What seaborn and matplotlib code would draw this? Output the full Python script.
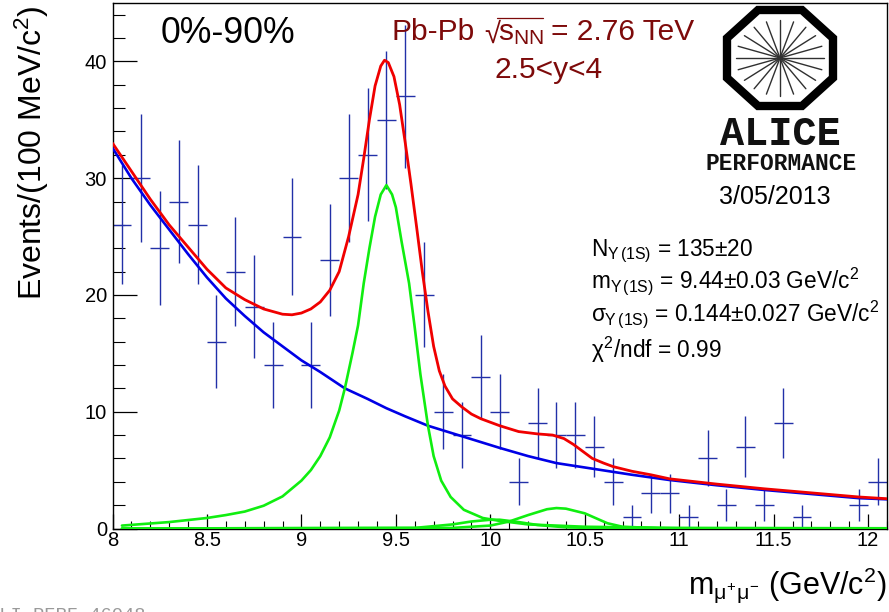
import numpy as np
import matplotlib
matplotlib.use("Agg")
import matplotlib.pyplot as plt
import seaborn as sns
from matplotlib.ticker import MultipleLocator, FixedLocator, FixedFormatter

# data points
mass = [8.05, 8.15, 8.25, 8.35, 8.45, 8.55, 8.65, 8.75, 8.85, 8.95, 9.05, 9.15, 9.25,
        9.35, 9.45, 9.55, 9.65, 9.75, 9.85, 9.95, 10.05, 10.15, 10.25, 10.35, 10.45,
        10.55, 10.65, 10.75, 10.85, 10.95, 11.05, 11.15, 11.25, 11.35, 11.45, 11.55,
        11.65, 11.95, 12.05]
events = [26, 30, 24, 28, 26, 16, 22, 19, 14, 25, 14, 23, 30, 32, 35, 37, 20, 10, 8, 13,
          10, 4, 9, 8, 8, 7, 4, 1, 3, 3, 1, 6, 2, 7, 2, 9, 1, 2, 4]
events_err = [5.1, 5.5, 4.9, 5.3, 5.1, 4.0, 4.7, 4.4, 3.7, 5.0, 3.7, 4.8, 5.5, 5.7, 5.9,
              6.1, 4.5, 3.2, 2.8, 3.6, 3.2, 2.0, 3.0, 2.8, 2.8, 2.6, 2.0, 1.0, 1.7, 1.7,
              1.0, 2.4, 1.4, 2.6, 1.4, 3.0, 1.0, 1.4, 2.0]

# fit curves
bkg_x = [8.0, 8.1, 8.2, 8.3, 8.4, 8.5, 8.6, 8.7, 8.8, 8.9, 9.0, 9.1, 9.23, 9.35, 9.45,
         9.55, 9.67, 9.85, 10.05, 10.2, 10.35, 10.55, 10.75, 10.95, 11.2, 11.45, 11.7, 11.95, 12.1]
bkg_y = [32.6, 30.0, 27.7, 25.6, 23.5, 21.5, 19.7, 18.2, 16.8, 15.6, 14.4, 13.4, 12.0, 11.1, 10.3,
         9.6, 8.8, 7.9, 6.9, 6.2, 5.6, 5.1, 4.6, 4.15, 3.7, 3.3, 2.95, 2.6, 2.5]

total_x = [8.0, 8.1, 8.2, 8.3, 8.4, 8.5, 8.6, 8.7, 8.8, 8.9, 8.95, 9.0, 9.05, 9.1, 9.15, 9.2,
           9.25, 9.3, 9.33, 9.36, 9.39, 9.42, 9.44, 9.46, 9.49, 9.52, 9.55, 9.58, 9.61, 9.64,
           9.67, 9.7, 9.73, 9.76, 9.8, 9.85, 9.9, 9.95, 10.05, 10.15, 10.25, 10.33,
           10.39, 10.44, 10.49, 10.54, 10.6, 10.65, 10.75, 10.85, 10.95, 11.2, 11.45, 11.7, 11.95, 12.1]
total_y = [33.0, 30.6, 28.2, 26.0, 24.1, 22.2, 20.6, 19.6, 18.8, 18.35, 18.3, 18.45, 18.8, 19.4, 20.4, 22.0,
           25.0, 28.6, 31.7, 35.0, 37.9, 39.6, 40.1, 39.9, 38.7, 36.3, 33.0, 29.5, 25.8, 22.0,
           18.6, 15.6, 13.5, 12.2, 11.1, 10.4, 9.8, 9.4, 8.8, 8.3, 8.1, 8.0,
           7.7, 7.2, 6.6, 6.0, 5.6, 5.3, 4.9, 4.6, 4.25, 3.8, 3.4, 3.05, 2.7, 2.55]

peak1s_x = [8.05, 8.3, 8.5, 8.6, 8.7, 8.8, 8.9, 9.0, 9.05, 9.1, 9.15, 9.2, 9.23, 9.27, 9.3,
            9.33, 9.36, 9.39, 9.42, 9.45, 9.48, 9.5, 9.53, 9.57, 9.6, 9.63, 9.67, 9.7, 9.74,
            9.79, 9.86, 9.96, 10.05, 10.2, 10.5, 11.0, 12.1]
peak1s_y = [0.25, 0.55, 0.9, 1.15, 1.45, 1.95, 2.75, 4.1, 5.0, 6.2, 7.8, 10.1, 12.0, 15.0, 17.4,
            21.0, 24.0, 26.7, 28.6, 29.4, 28.6, 27.5, 24.6, 21.0, 17.2, 13.2, 8.8, 6.2, 4.1,
            2.7, 1.6, 0.9, 0.65, 0.35, 0.15, 0.05, 0.02]

peak2s_x = [8.05, 9.6, 9.8, 9.9, 10.0, 10.05, 10.15, 10.25, 10.4, 10.6, 12.1]
peak2s_y = [0.0, 0.05, 0.35, 0.6, 0.75, 0.75, 0.55, 0.3, 0.1, 0.02, 0.0]

peak3s_x = [8.05, 9.8, 10.0, 10.1, 10.2, 10.3, 10.35, 10.4, 10.5, 10.62, 10.7, 10.9, 12.1]
peak3s_y = [0.0, 0.05, 0.25, 0.6, 1.15, 1.65, 1.75, 1.7, 1.3, 0.45, 0.15, 0.02, 0.0]

sns.set_theme(style="ticks")
plt.rcParams["font.family"] = ["Liberation Sans", "DejaVu Sans"]
plt.rcParams["mathtext.fontset"] = "custom"
plt.rcParams["mathtext.rm"] = "Liberation Sans"
plt.rcParams["mathtext.it"] = "Liberation Sans"
plt.rcParams["mathtext.bf"] = "Liberation Sans:bold"

W, H = 889, 612
fig = plt.figure(figsize=(W / 100, H / 100), dpi=100)
ax = fig.add_axes([112.5 / W, 1 - 528.5 / H, (887 - 112.5) / W, (528.5 - 3) / H])

# histogram points with errors
ax.errorbar(mass, events, xerr=0.05, yerr=events_err, fmt="none", ecolor="#2230a8",
            elinewidth=1.0, capsize=0, zorder=2, clip_on=True)

# fits
sns.lineplot(x=bkg_x, y=bkg_y, color="#0000e6", linewidth=1.9, sort=False, errorbar=None, ax=ax, zorder=3)
sns.lineplot(x=total_x, y=total_y, color="#f00000", linewidth=2.0, sort=False, errorbar=None, ax=ax, zorder=4)
sns.lineplot(x=peak1s_x, y=peak1s_y, color="#10ee10", linewidth=1.9, sort=False, errorbar=None, ax=ax, zorder=5)
sns.lineplot(x=peak2s_x, y=peak2s_y, color="#10ee10", linewidth=1.9, sort=False, errorbar=None, ax=ax, zorder=5)
sns.lineplot(x=peak3s_x, y=peak3s_y, color="#10ee10", linewidth=1.9, sort=False, errorbar=None, ax=ax, zorder=5)

ax.set_xlim(8, 12.1)
ax.set_ylim(0, 45)
ax.xaxis.set_minor_locator(MultipleLocator(0.1))
ax.yaxis.set_major_locator(MultipleLocator(10))
ax.yaxis.set_minor_locator(MultipleLocator(2))
ax.xaxis.set_major_locator(FixedLocator([8, 8.5, 9, 9.5, 10, 10.5, 11, 11.5, 12]))
ax.xaxis.set_major_formatter(FixedFormatter(["8", "8.5", "9", "9.5", "10", "10.5", "11", "11.5", "12"]))
ax.tick_params(axis="x", which="major", direction="in", length=11, width=0.9, labelsize=14.5, pad=2, colors="black")
ax.tick_params(axis="x", which="minor", direction="in", length=5.5, width=0.8, colors="black")
ax.tick_params(axis="y", which="major", direction="in", length=17, width=0.9, labelsize=14.5, pad=4, colors="black")
ax.tick_params(axis="y", which="minor", direction="in", length=8.5, width=0.8, colors="black")
for s in ax.spines.values():
    s.set_color("black")
    s.set_linewidth(1.0)

# overlay in pixel coordinates for the texts and the logo
ov = fig.add_axes([0, 0, 1, 1], facecolor="none")
ov.set_xlim(0, W)
ov.set_ylim(H, 0)
ov.axis("off")

dark_red = "#7d0a0a"
ov.text(161, 43, "0%-90%", fontsize=25.7, color="black", va="baseline")
ov.text(391, 40, "Pb-Pb", fontsize=21.5, color=dark_red, va="baseline")
ov.text(484, 43, "\u221a", fontsize=21, color=dark_red, va="baseline")
ov.plot([497, 543], [17.5, 17.5], color=dark_red, linewidth=0.9)
ov.text(498, 40, r"s$_{\mathrm{NN}}$", fontsize=21.5, color=dark_red, va="baseline")
ov.text(551, 40, "= 2.76 TeV", fontsize=21.5, color=dark_red, va="baseline")
ov.text(495, 78, "2.5<y<4", fontsize=21.5, color=dark_red, va="baseline")
ov.text(775, 204, "3/05/2013", fontsize=18, color="black", ha="center", va="baseline")

ov.text(591, 256, r"N$_{\Upsilon\,(\mathrm{1S})}$ = 135$\pm$20", fontsize=16.3, color="black", va="baseline")
ov.text(591, 288, r"m$_{\Upsilon\,(\mathrm{1S})}$ = 9.44$\pm$0.03 GeV/c$^{2}$", fontsize=16.3, color="black", va="baseline")
ov.text(591, 321, r"$\sigma_{\Upsilon\,(\mathrm{1S})}$ = 0.144$\pm$0.027 GeV/c$^{2}$", fontsize=16.3, color="black", va="baseline")
ov.text(591, 358, r"$\chi^{2}$/ndf = 0.99", fontsize=16.3, color="black", va="baseline")

ov.text(42, 300, r"Events/(100 MeV/c$^{2}$)", fontsize=23, rotation=90, ha="left", va="baseline",
        rotation_mode="anchor", color="black")
ov.text(887, 594, r"m$_{\mu^{+}\mu^{-}}$ (GeV/c$^{2}$)", fontsize=22, ha="right", va="baseline", color="black")
ov.text(-12, 620, "ALI-PERF-46048", fontsize=13.5, family="Liberation Mono", color="#9a9a9a", va="baseline", clip_on=False)

# ALICE logo
cx, cy = 780, 58
rx, ry = 53, 48
ang = np.deg2rad(np.arange(22.5, 360, 45))
octagon = np.column_stack([cx + rx / np.cos(np.pi / 8) * np.cos(ang), cy + ry / np.cos(np.pi / 8) * np.sin(ang)])
ov.add_patch(plt.Polygon(octagon, closed=True, fill=False, edgecolor="black", linewidth=6, joinstyle="miter"))
for a in np.deg2rad(np.arange(0, 360, 18)):
    ov.plot([cx, cx + 44 * np.cos(a)], [cy, cy + 38 * np.sin(a)], color="#303030", linewidth=1.0)
ov.text(780, 145, "ALICE", fontsize=29, family="Liberation Mono", fontweight="bold", color="#111111", ha="center", va="baseline")
ov.text(781, 170, "PERFORMANCE", fontsize=16.5, family="Liberation Mono", fontweight="bold", color="#111111", ha="center", va="baseline")

fig.savefig("out.png", dpi=100)
